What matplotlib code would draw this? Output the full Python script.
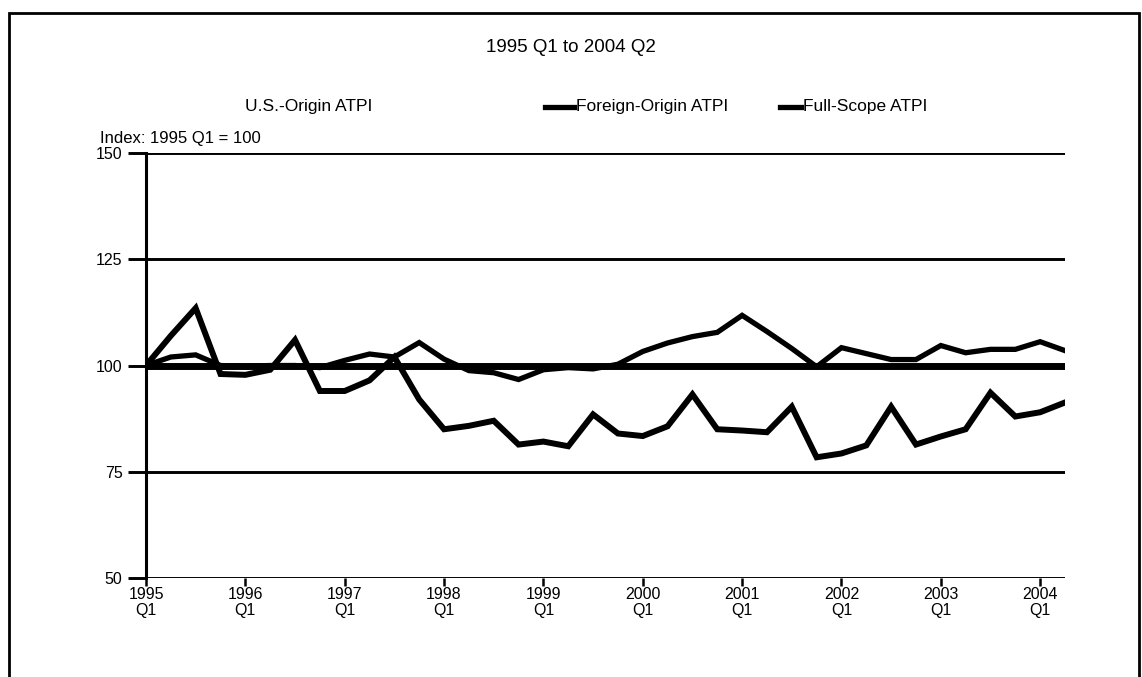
import matplotlib.pyplot as plt
from matplotlib.lines import Line2D
from matplotlib.patches import Rectangle

plt.rcParams["font.family"] = ["Liberation Sans", "DejaVu Sans"]

TITLE = "1995 Q1 to 2004 Q2"
INDEX_LABEL = "Index: 1995 Q1 = 100"

# quarters 1995 Q1 .. 2004 Q2
quarters = [f"{y} Q{q}" for y in range(1995, 2005) for q in range(1, 5)][:38]

us_origin = [100, 102, 102.5, 100, 99.8, 100, 100, 99.5, 101.2, 102.7,
             102, 105.4, 101.5, 98.8, 98.3, 96.7, 99, 99.5, 99.2, 100.3,
             103.3, 105.3, 106.8, 107.8, 111.8, 108, 104, 99.7, 104.2, 102.8,
             101.4, 101.4, 104.7, 103, 103.8, 103.8, 105.6, 103.5]
foreign_origin = [100, 107, 113.5, 98, 97.8, 99, 106, 94, 94, 96.5,
                  102, 92, 85, 85.8, 87, 81.4, 82.1, 81, 88.5, 84,
                  83.4, 85.7, 93.2, 85, 84.7, 84.3, 90.3, 78.4, 79.3, 81.2,
                  90.3, 81.4, 83.3, 85, 93.6, 88, 89, 91.3]
full_scope = [100] * 38

year_labels = ["1995", "1996", "1997", "1998", "1999", "2000", "2001", "2002", "2003", "2004"]
y_ticks = [50, 75, 100, 125, 150]

W, H = 1142, 677
fig = plt.figure(figsize=(W / 100, H / 100), dpi=100)
ax = fig.add_axes([146 / W, 1 - 578 / H, (1065 - 146) / W, (578 - 153) / H])

x = list(range(len(quarters)))
ax.plot(x, full_scope, color="black", lw=5, solid_capstyle="butt", zorder=3)
ax.plot(x, us_origin, color="black", lw=3.8, solid_joinstyle="miter", zorder=4)
ax.plot(x, foreign_origin, color="black", lw=4.3, solid_joinstyle="miter", zorder=5)

ax.set_xlim(0, len(quarters) - 1)
ax.set_ylim(50, 150)
ax.set_yticks(y_ticks)
ax.set_yticklabels([str(v) for v in y_ticks], fontsize=11.5)
ax.yaxis.grid(True, color="black", lw=2.1)
ax.set_axisbelow(True)
ax.tick_params(axis="y", length=13, width=2.1, direction="out", pad=4)

ax.set_xticks(x[::4])
ax.set_xticklabels([f"{yr}\nQ1" for yr in year_labels], fontsize=11.5, linespacing=1.1)
ax.tick_params(axis="x", length=6, width=1.8, direction="out", pad=0.5)

for s in ["top", "right", "bottom"]:
    ax.spines[s].set_visible(False)
ax.spines["left"].set_linewidth(2.2)

fig.text(571 / W, 1 - 48 / H, TITLE, ha="center", va="center", fontsize=13.5)
fig.text(100 / W, 1 - 139 / H, INDEX_LABEL, ha="left", va="center", fontsize=12)

# legend row
ly = 1 - 107 / H
fig.text(245 / W, ly, "U.S.-Origin ATPI", ha="left", va="center", fontsize=12.5)
fig.add_artist(Line2D([545 / W, 574 / W], [ly, ly], color="black", lw=3.8))
fig.text(576 / W, ly, "Foreign-Origin ATPI", ha="left", va="center", fontsize=12.5)
fig.add_artist(Line2D([780 / W, 801 / W], [ly, ly], color="black", lw=3.8))
fig.text(803 / W, ly, "Full-Scope ATPI", ha="left", va="center", fontsize=12.5)

# outer frame
fig.add_artist(Rectangle((9 / W, -0.05), (1139 - 9) / W, 1.05 - 13 / H,
                         transform=fig.transFigure, fill=False, lw=2, edgecolor="black"))

fig.savefig("out.png", dpi=100)
